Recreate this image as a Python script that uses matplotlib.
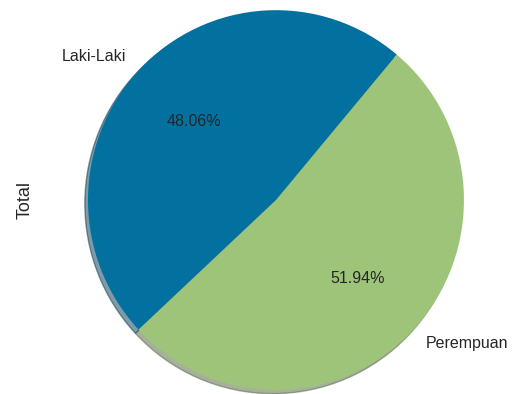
import matplotlib
matplotlib.use("Agg")
import matplotlib.pyplot as plt

# data
labels = ["Laki-Laki", "Perempuan"]
values = [48.06, 51.94]
colors = ["#0271a0", "#9ec479"]

plt.rcParams['font.family'] = ['Liberation Sans', 'DejaVu Sans']

fig = plt.figure(figsize=(5.31, 3.94), dpi=100)
ax = fig.add_axes([0.1657, 0.0102, 0.708, 0.964])

wedges, texts, autotexts = ax.pie(
    values, labels=labels, colors=colors, autopct='%.2f%%',
    startangle=50, shadow={'ox': -0.012, 'oy': -0.014, 'shade': 0.5},
    labeldistance=1.1, pctdistance=0.6,
    textprops={'color': '.15', 'fontsize': 11.5},
)
ax.set_xlim(-1.0, 1.0)
ax.set_ylim(-1.0, 1.0)
ax.set_aspect('auto')

ax.set_ylabel('Total', fontsize=13, color='.15')
ax.yaxis.set_label_coords(-0.145, 0.5)

fig.savefig('out.png', dpi=100)
